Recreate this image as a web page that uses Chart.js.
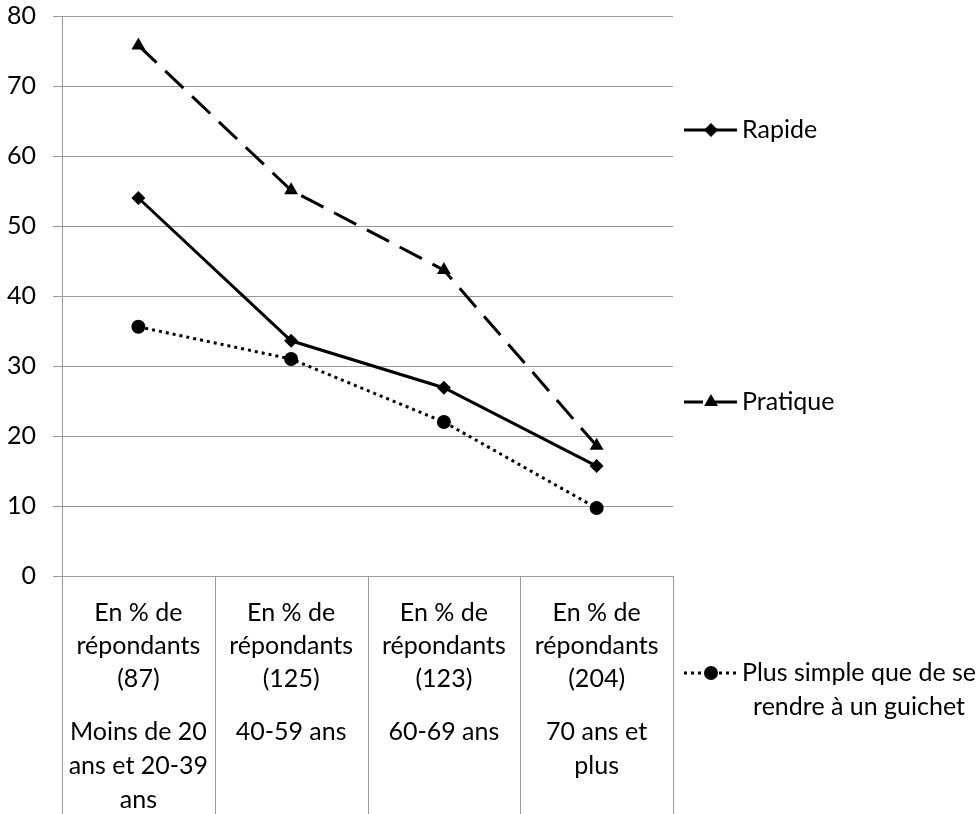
<!DOCTYPE html>
<html><head><meta charset="utf-8">
<script src="https://cdn.jsdelivr.net/npm/chart.js@4/dist/chart.umd.min.js"></script>
<style>html,body{margin:0;padding:0;background:#fff;} #wrap{width:980px;height:814px;position:relative;}</style>
</head><body><div id="wrap"><canvas id="c" width="980" height="814"></canvas></div>
<script>
// ---- data ----
const categories = [
  ["En % de","répondants","(87)"],
  ["En % de","répondants","(125)"],
  ["En % de","répondants","(123)"],
  ["En % de","répondants","(204)"]
];
const ageGroups = [
  ["Moins de 20","ans et 20-39","ans"],
  ["40-59 ans"],
  ["60-69 ans"],
  ["70 ans et","plus"]
];
const rapide = [54, 33.6, 26.9, 15.7];
const pratique = [75.8, 55.1, 43.7, 18.6];
const plusSimple = [35.6, 31, 22, 9.7];
const seriesNames = ["Rapide", "Pratique", ["Plus simple que de se","rendre à un guichet"]];
const yMin = 0, yMax = 80, yStep = 10;

// ---- style ----
const FONT = "Lato";
const FSIZE = 25;
const GRID = "#999999";

const legendPos = [130, 402, 673]; // vertical centres of legend entries
const legendDashOffset = [0, 6, 0];

function drawMarker(ctx, style, x, y, r) {
  ctx.save();
  ctx.setLineDash([]);
  ctx.fillStyle = "#000";
  ctx.beginPath();
  if (style === "rectRot") {
    ctx.moveTo(x, y - r); ctx.lineTo(x + r, y); ctx.lineTo(x, y + r); ctx.lineTo(x - r, y); ctx.closePath();
  } else if (style === "triangle") {
    const w = r * 1.732;
    ctx.moveTo(x, y - r); ctx.lineTo(x + w / 2, y + r / 2); ctx.lineTo(x - w / 2, y + r / 2); ctx.closePath();
  } else {
    ctx.arc(x, y, r, 0, Math.PI * 2);
  }
  ctx.fill();
  ctx.restore();
}

const extras = {
  id: "extras",
  afterDraw(chart) {
    const ctx = chart.ctx;
    const xs = chart.scales.x;
    const area = chart.chartArea;
    ctx.save();
    // category separators below the axis
    ctx.strokeStyle = GRID;
    ctx.lineWidth = 1;
    for (let i = 0; i <= categories.length; i++) {
      const x = Math.round(xs.getPixelForValue(i - 0.5)) + 0.5;
      ctx.beginPath();
      ctx.moveTo(x, area.bottom);
      ctx.lineTo(x, 814);
      ctx.stroke();
    }
    // second-level category labels
    ctx.fillStyle = "#000";
    ctx.font = FSIZE + "px " + FONT;
    ctx.textAlign = "center";
    ctx.textBaseline = "middle";
    ageGroups.forEach((lines, i) => {
      const x = xs.getPixelForValue(i);
      lines.forEach((t, j) => ctx.fillText(t, x, area.bottom + 156 + j * 34));
    });
    // legend
    const ds = chart.data.datasets;
    ds.forEach((d, i) => {
      const y = legendPos[i];
      ctx.strokeStyle = "#000";
      ctx.lineWidth = d.borderWidth;
      ctx.setLineDash(d.borderDash || []);
      ctx.lineDashOffset = legendDashOffset[i];
      ctx.beginPath();
      ctx.moveTo(684, y);
      ctx.lineTo(737, y);
      ctx.stroke();
      drawMarker(ctx, d.pointStyle, 711, y, d.pointRadius);
      const name = seriesNames[i];
      const lines = Array.isArray(name) ? name : [name];
      ctx.textBaseline = "middle";
      if (lines.length === 1) {
        ctx.textAlign = "left";
        ctx.fillText(lines[0], 742, y);
      } else {
        const w = Math.max(...lines.map(t => ctx.measureText(t).width));
        ctx.textAlign = "center";
        lines.forEach((t, j) => ctx.fillText(t, 742 + w / 2, y + j * 34));
      }
    });
    ctx.restore();
  }
};

new Chart(document.getElementById("c"), {
  type: "line",
  data: {
    labels: categories,
    datasets: [
      { label: "Rapide", data: rapide, borderColor: "#000", backgroundColor: "#000",
        borderWidth: 3, pointStyle: "rectRot", pointRadius: 7, pointBorderWidth: 0, tension: 0 },
      { label: "Pratique", data: pratique, borderColor: "#000", backgroundColor: "#000",
        borderWidth: 3, borderDash: [25, 12], pointStyle: "triangle", pointRadius: 8, pointBorderWidth: 0, tension: 0 },
      { label: "Plus simple que de se rendre à un guichet", data: plusSimple, borderColor: "#000", backgroundColor: "#000",
        borderWidth: 3, borderDash: [3, 4], pointStyle: "circle", pointRadius: 7, pointBorderWidth: 0, tension: 0 }
    ]
  },
  options: {
    responsive: false,
    animation: false,
    layout: { autoPadding: false, padding: { left: 0, top: 16, right: 307, bottom: 0 } },
    plugins: { legend: { display: false }, tooltip: { enabled: false } },
    scales: {
      x: {
        type: "category",
        offset: true,
        grid: { display: true, drawOnChartArea: false, drawTicks: false, color: GRID },
        border: { display: true, color: GRID },
        ticks: { autoSkip: false, maxRotation: 0, minRotation: 0, padding: 20, color: "#000",
                 font: { family: FONT, size: FSIZE, lineHeight: 1.33 } },
        afterFit(scale) { scale.height = 238; scale.paddingLeft = 0; scale.paddingRight = 0; }
      },
      y: {
        min: yMin, max: yMax,
        grid: { color: GRID, tickLength: 9, drawTicks: true },
        border: { display: true, color: GRID },
        ticks: { stepSize: yStep, padding: 17, color: "#000", font: { family: FONT, size: FSIZE } },
        afterFit(scale) { scale.width = 62; scale.paddingTop = 0; scale.paddingBottom = 0; }
      }
    }
  },
  plugins: [extras]
});
</script>
</body></html>
